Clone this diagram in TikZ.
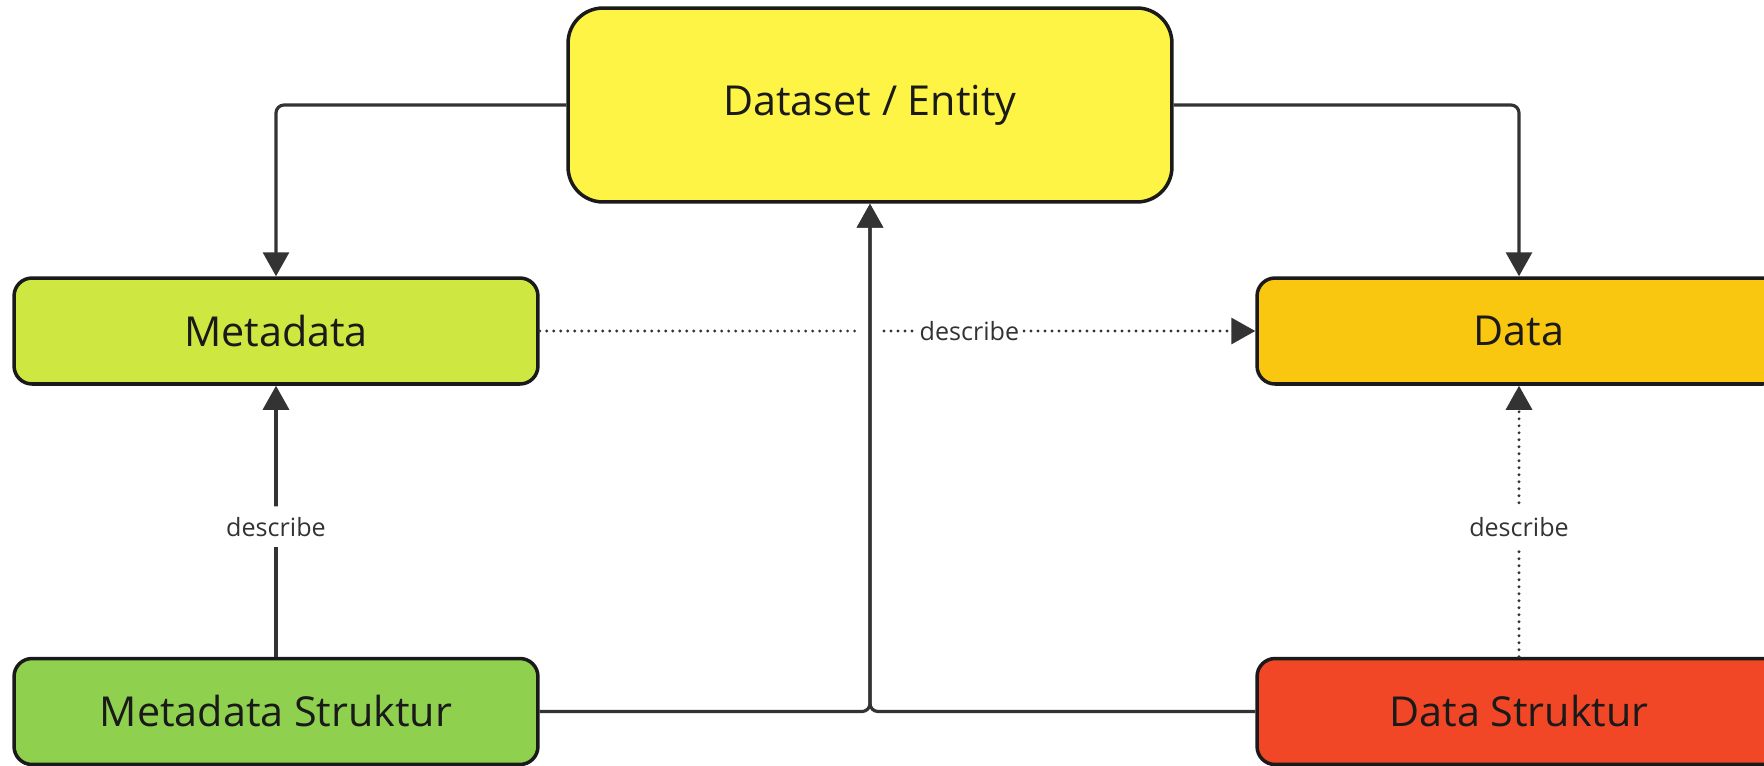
\documentclass[tikz,border=0pt]{standalone}
\usepackage{fontspec}
\setmainfont{Open Sans}
\usetikzlibrary{calc,positioning,arrows.meta}
\definecolor{dsy}{HTML}{FEF445}
\definecolor{mdg}{HTML}{CEE741}
\definecolor{dto}{HTML}{FAC710}
\definecolor{msg}{HTML}{8FD14F}
\definecolor{dsr}{HTML}{F24726}
\definecolor{ink}{HTML}{333333}
\definecolor{edgec}{HTML}{1A1A1A}
\tikzset{%
  box/.style = { draw=edgec, line width=2pt, rounded corners=0.36cm, minimum width=10.48cm, minimum height=2.12cm, text=edgec, font=\fontsize{23.5}{28}\selectfont, inner sep=0pt },
  bigbox/.style = { box, rounded corners=0.7cm, minimum width=12.08cm, minimum height=3.88cm },
  link/.style = { draw=ink, line width=1.8pt, rounded corners=0.16cm, -{Triangle[length=0.48cm,width=0.52cm]} },
  dotlink/.style = { link, line cap=round, dash pattern=on 0pt off 0.14cm },
  lbl/.style = { fill=white, text=ink, font=\fontsize{14.3}{17}\selectfont, inner xsep=2pt, inner ysep=6pt }
}

\begin{document}
\begin{tikzpicture}[x=0.02cm, y=-0.02cm]

  \useasboundingbox (0,0) rectangle (1764,765);

  % Boxes
  \node[bigbox, fill=dsy] (dataset) at (870,105) {Dataset / Entity};

  \foreach \nm/\x/\y/\col/\txt in {meta/276/331/mdg/Metadata, data/1519/331/dto/Data,
    mstruct/276/711.5/msg/Metadata Struktur, dstruct/1519/711.5/dsr/Data Struktur} {
    \node[box, fill=\col] (\nm) at (\x,\y) {\txt};
  }

  % Where the dotted line jumps the vertical one
  \coordinate (hopL) at (855,0);
  \coordinate (hopR) at (884,0);

  % Connectors
  \draw[link] (dataset.west) -| (meta.north);
  \draw[link] (dataset.east) -| (data.north);

  \draw[link] (mstruct.north) -- node[lbl, pos=0.48] {describe} (meta.south);
  \draw[dotlink] (dstruct.north) -- node[lbl, pos=0.48] {describe} (data.south);

  \draw[link] (mstruct.east) -| (dataset.south);
  \draw[link] (dstruct.west) -| (dataset.south);

  \draw[dotlink, -] (meta.east) -- (meta.east -| hopL);
  \draw[dotlink] (meta.east -| hopR) -- node[lbl, pos=0.23] {describe} (data.west);

\end{tikzpicture}
\end{document}
